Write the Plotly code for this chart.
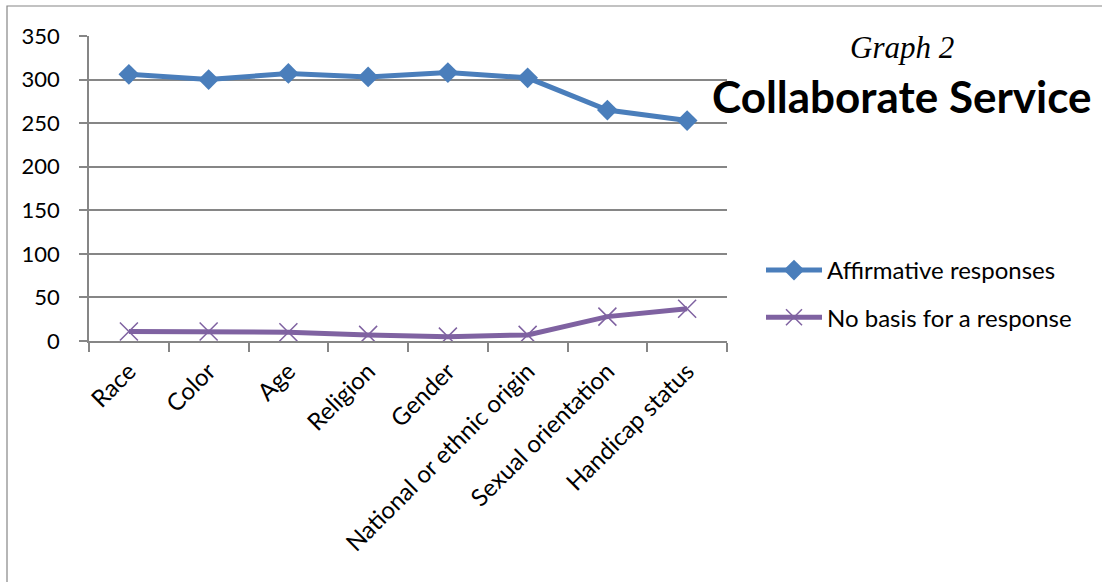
import plotly.graph_objects as go

# Categories and series
categories = ["Race", "Color", "Age", "Religion", "Gender",
              "National or ethnic origin", "Sexual orientation", "Handicap status"]
affirmative = [306, 300, 307, 303, 308, 302, 265, 253]
no_basis = [11, 11, 10, 7, 5, 7, 28, 37]

BLUE = "#4A7EBB"
PURPLE = "#7F62A1"
GRID = "#868686"
FONT = "Lato, 'Open Sans', sans-serif"

W, H = 1102, 582
L, R, T, B = 89, 727, 36, 341  # plot area in pixels


def px_x(px):
    return (px - L) / (R - L)


def px_y(py):
    return (B - py) / (B - T)


fig = go.Figure()
fig.add_trace(go.Scatter(
    x=categories, y=affirmative, name="Affirmative responses",
    mode="lines+markers", legendgroup="a",
    line=dict(color=BLUE, width=5),
    marker=dict(symbol="diamond", size=16, color=BLUE),
))
fig.add_trace(go.Scatter(
    x=categories, y=no_basis, name="No basis for a response",
    mode="lines+markers", legendgroup="b",
    line=dict(color=PURPLE, width=5),
    marker=dict(symbol="x-thin", size=18, color=PURPLE,
                line=dict(color=PURPLE, width=1.5)),
))

fig.update_layout(
    width=W, height=H,
    margin=dict(l=L, r=W - R, t=T, b=H - B, pad=0),
    paper_bgcolor="white", plot_bgcolor="white",
    font=dict(family=FONT, size=20, color="black"),
    showlegend=True,
    legend=dict(
        x=px_x(761), y=px_y(248), xanchor="left", yanchor="top",
        font=dict(size=24), tracegroupgap=13, itemwidth=56,
        traceorder="grouped", bgcolor="rgba(0,0,0,0)",
    ),
    xaxis=dict(
        type="category", tickangle=-45, tickson="boundaries",
        showline=True, linecolor=GRID, linewidth=1.5,
        ticks="outside", ticklen=9, tickcolor=GRID, tickwidth=1.5,
        showgrid=False, tickfont=dict(size=24), ticklabelstandoff=5,
        range=[-0.5, len(categories) - 0.5],
    ),
    yaxis=dict(
        range=[0, 350], dtick=50,
        showline=True, linecolor=GRID, linewidth=1.5,
        ticks="outside", ticklen=8, tickcolor=GRID, tickwidth=1.5,
        showgrid=True, gridcolor=GRID, gridwidth=1.5,
        zeroline=False, tickfont=dict(size=22), ticklabelstandoff=15,
    ),
    annotations=[
        dict(text="<i>Graph 2</i>", x=px_x(902), y=px_y(47),
             xref="paper", yref="paper", showarrow=False,
             xanchor="center", yanchor="middle",
             font=dict(family="'Liberation Serif', serif", size=31, color="black")),
        dict(text="<b>Collaborate Service</b>", x=px_x(902), y=px_y(96),
             xref="paper", yref="paper", showarrow=False,
             xanchor="center", yanchor="middle",
             font=dict(family=FONT, size=44, color="black")),
    ],
    shapes=[
        dict(type="rect", xref="paper", yref="paper",
             x0=px_x(7), x1=px_x(1120), y0=px_y(600), y1=px_y(6),
             line=dict(color=GRID, width=1.2), fillcolor="rgba(0,0,0,0)",
             layer="below"),
    ],
)

fig.write_html("out.html")
